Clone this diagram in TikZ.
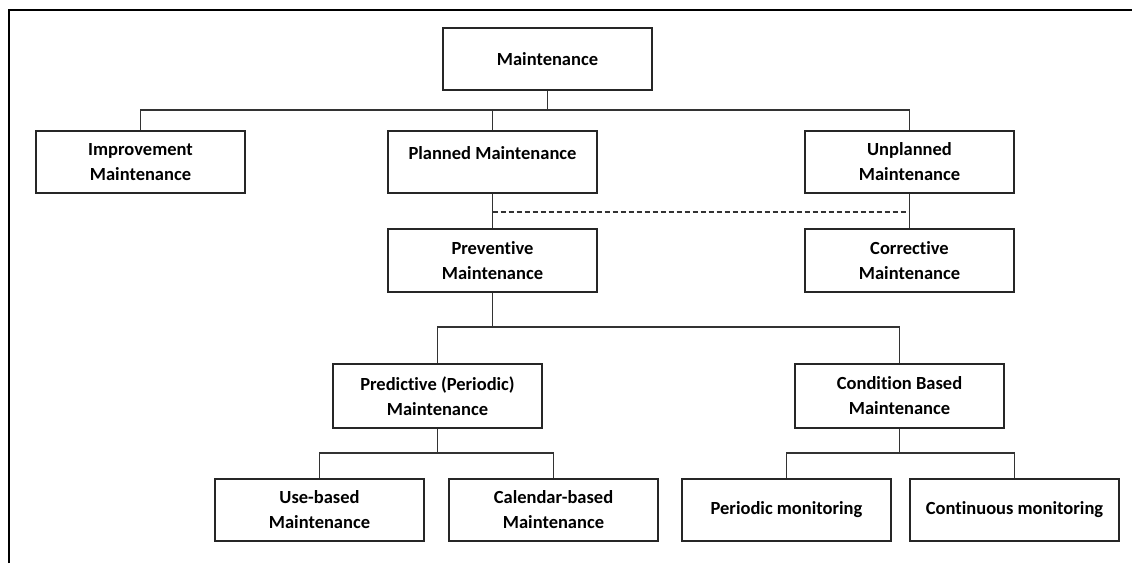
\documentclass[tikz,border=0pt]{standalone}
\usepackage{fontspec}
\setmainfont[Ligatures={NoCommon}]{Carlito}
\begin{document}
\begin{tikzpicture}[x=1pt,y=-1pt,
  box/.style={draw=black!85, line width=1.2pt, minimum width=209pt, minimum height=62pt,
    inner sep=0pt, align=center, font=\fontsize{18.5}{25}\selectfont\bfseries, text=black},
  link/.style={draw=black!80, line width=1.2pt},
  planlink/.style={draw=black!80, line width=1.1pt, dashed, dash pattern=on 5pt off 3pt}]
\useasboundingbox (0,0) rectangle (1132,563);
% partial frame: top and left edges
\draw[line width=2pt] (9,563) -- (9,10) -- (1132,10);

% first level
\node[box] (main) at (547.5,59) {Maintenance};
\node[box] (impr) at (140.5,162) {Improvement\\Maintenance};
\node[box] (plan) at (492.5,162) {\raisebox{17pt}{Planned Maintenance}};
\node[box] (unpl) at (909.5,162) {Unplanned\\Maintenance};
% second level
\node[box, minimum height=63pt] (prev) at (492.5,260.5) {Preventive\\Maintenance};
\node[box, minimum height=63pt] (corr) at (909.5,260.5) {Corrective\\Maintenance};
% third level
\node[box, minimum height=64pt] (pred) at (437.5,396) {Predictive (Periodic)\\Maintenance};
\node[box, minimum height=64pt] (cond) at (899.5,396) {Condition Based\\Maintenance};
% leaves
\node[box] (use) at (319.5,510) {Use-based\\Maintenance};
\node[box] (cal) at (553.5,510) {Calendar-based\\Maintenance};
\node[box] (permon) at (786.5,510) {Periodic monitoring};
\node[box] (conmon) at (1014.5,510) {Continuous monitoring};

% tree connectors
\coordinate (b1) at (0,110);
\draw[link] (main.south) -- (main.south |- b1);
\draw[link] (impr.north) -- (impr.north |- b1) -- (unpl.north |- b1) -- (unpl.north);
\draw[link] (plan.north) -- (plan.north |- b1);

\draw[link] (plan.south) -- (prev.north);
\draw[link] (unpl.south) -- (corr.north);
\coordinate (dl) at (0,212);
\draw[planlink] (plan.south |- dl) -- (unpl.south |- dl);

\coordinate (b2) at (0,327);
\draw[link] (prev.south) -- (prev.south |- b2);
\draw[link] (pred.north) -- (pred.north |- b2) -- (cond.north |- b2) -- (cond.north);

\coordinate (b3) at (0,453);
\draw[link] (pred.south) -- (pred.south |- b3);
\draw[link] (use.north) -- (use.north |- b3) -- (cal.north |- b3) -- (cal.north);
\draw[link] (cond.south) -- (cond.south |- b3);
\draw[link] (permon.north) -- (permon.north |- b3) -- (conmon.north |- b3) -- (conmon.north);
\end{tikzpicture}
\end{document}
